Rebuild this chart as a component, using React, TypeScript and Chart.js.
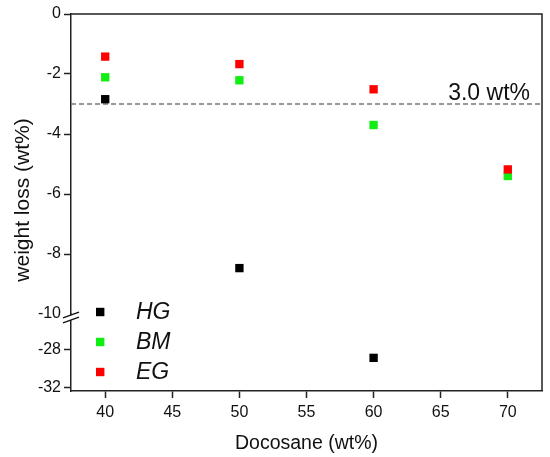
import React, { useRef, useEffect } from "react";
import { Chart, registerables } from "chart.js";

Chart.register(...registerables);

// x values and tick labels
const docosane = [40, 50, 60, 70];
const xTicks = [40, 45, 50, 55, 60, 65, 70];
const yTopTicks = [0, -2, -4, -6, -8, -10];
const yBottomTicks = [-28, -32];

// weight loss (wt%) per series, null = not on that axis segment
const seriesNames = ["HG", "BM", "EG"];
const hgUpper = [-2.84, -8.47, null, null];
const hgLower = [null, null, -28.9, null];
const bm = [-2.11, -2.21, -3.7, -5.4];
const eg = [-1.42, -1.67, -2.51, -5.18];
const threshold = -3.0;
const thresholdLabel = "3.0 wt%";

const colors: Record<string, string> = { HG: "#000000", BM: "#11ee11", EG: "#ff0000" };
const FONT = "'Liberation Sans', Arial, sans-serif";

const toPoints = (vals: (number | null)[]) =>
  docosane
    .map((x, i) => ({ x, y: vals[i] }))
    .filter((p) => p.y !== null) as { x: number; y: number }[];

const overlay = {
  id: "overlay",
  afterDraw(chart: any) {
    const { ctx, chartArea } = chart;
    const { left, right, top, bottom } = chartArea;
    ctx.save();

    // frame top + right
    ctx.strokeStyle = "#222";
    ctx.lineWidth = 1.5;
    ctx.beginPath();
    ctx.moveTo(left, top);
    ctx.lineTo(right, top);
    ctx.lineTo(right, bottom);
    ctx.stroke();

    // axis break
    const yb = chart.scales.y.bottom + 3;
    ctx.fillStyle = "#fff";
    ctx.beginPath();
    ctx.moveTo(left - 7, yb + 0.5);
    ctx.lineTo(left + 7, yb - 4.5);
    ctx.lineTo(left + 7, yb + 0.5);
    ctx.lineTo(left - 7, yb + 5.5);
    ctx.closePath();
    ctx.fill();
    ctx.strokeStyle = "#111";
    ctx.lineWidth = 1.3;
    ctx.beginPath();
    ctx.moveTo(left - 8, yb + 0.9);
    ctx.lineTo(left + 8, yb - 4.9);
    ctx.moveTo(left - 8, yb + 5.9);
    ctx.lineTo(left + 8, yb + 0.1);
    ctx.stroke();

    // threshold label
    ctx.fillStyle = "#111";
    ctx.font = `23px ${FONT}`;
    ctx.textAlign = "right";
    ctx.textBaseline = "alphabetic";
    ctx.fillText(thresholdLabel, right - 12, chart.scales.y.getPixelForValue(threshold) - 4.5);

    // legend
    ctx.font = `italic 23px ${FONT}`;
    ctx.textAlign = "left";
    ctx.textBaseline = "middle";
    seriesNames.forEach((name, i) => {
      const cy = 312 + i * 30;
      ctx.fillStyle = colors[name];
      ctx.fillRect(96, cy - 4.2, 8.4, 8.4);
      ctx.fillStyle = "#111";
      ctx.fillText(name, 136, cy + 1);
    });

    // axis titles
    ctx.textAlign = "center";
    ctx.font = `19.5px ${FONT}`;
    ctx.fillText("Docosane (wt%)", (left + right) / 2, 444);
    ctx.translate(23, 200);
    ctx.rotate(-Math.PI / 2);
    ctx.font = `21px ${FONT}`;
    ctx.fillText("weight loss (wt%)", 0, 0);

    ctx.restore();
  },
};

const App = () => {
  const canvasRef = useRef<HTMLCanvasElement>(null);

  useEffect(() => {
    document.body.style.margin = "0";
    const ctx = canvasRef.current?.getContext("2d");
    if (!ctx) return;

    const marker = (name: string) => ({
      pointStyle: "rect" as const,
      pointRadius: 5.9,
      pointHoverRadius: 5.9,
      pointBorderWidth: 0,
      backgroundColor: colors[name],
      borderColor: colors[name],
      showLine: false,
    });

    const axisGrid = (hide?: number) => ({
      display: true,
      drawOnChartArea: false,
      drawTicks: true,
      tickLength: 7,
      tickWidth: 1.5,
      tickColor: (c: any) => (c.tick && c.tick.value === hide ? "rgba(0,0,0,0)" : "#222"),
    });
    const axisBorder = { display: true, color: "#222", width: 1.5 };
    const tickFont = { family: FONT, size: 16 };

    const chart = new Chart(ctx, {
      type: "scatter",
      data: {
        datasets: [
          { label: "EG", data: toPoints(eg), yAxisID: "y", order: 0, ...marker("EG") },
          { label: "BM", data: toPoints(bm), yAxisID: "y", order: 1, ...marker("BM") },
          { label: "HG", data: toPoints(hgUpper), yAxisID: "y", order: 2, ...marker("HG") },
          { label: "HG", data: toPoints(hgLower), yAxisID: "y2", order: 2, ...marker("HG") },
          {
            type: "line",
            label: "limit",
            data: [
              { x: 37.45, y: threshold },
              { x: 72.55, y: threshold },
            ],
            yAxisID: "y",
            order: 3,
            borderColor: "#777",
            borderWidth: 1.5,
            borderDash: [5, 3],
            pointRadius: 0,
            showLine: true,
          } as any,
        ],
      },
      options: {
        animation: false,
        responsive: true,
        maintainAspectRatio: false,
        layout: { padding: { left: 0, right: 8, top: 14, bottom: 0 } },
        plugins: { legend: { display: false }, tooltip: { enabled: false } },
        scales: {
          x: {
            type: "linear",
            min: 37.45,
            max: 72.55,
            afterBuildTicks: (s: any) => {
              s.ticks = xTicks.map((value) => ({ value }));
            },
            afterFit: (s: any) => {
              s.height = 66;
            },
            grid: axisGrid(),
            border: axisBorder,
            ticks: { font: tickFont, color: "#111", padding: 5, maxRotation: 0 },
          },
          y2: {
            type: "linear",
            stack: "ys",
            stackWeight: 77,
            position: "left",
            min: -32.39,
            max: -24.28,
            afterBuildTicks: (s: any) => {
              s.ticks = yBottomTicks.map((value) => ({ value }));
            },
            afterFit: (s: any) => {
              s.width = 71;
            },
            grid: axisGrid(),
            border: axisBorder,
            ticks: { font: tickFont, color: "#111", padding: 3 },
          },
          y: {
            type: "linear",
            stack: "ys",
            stackWeight: 300,
            position: "left",
            min: -10,
            max: 0,
            afterBuildTicks: (s: any) => {
              s.ticks = yTopTicks.map((value) => ({ value }));
            },
            afterFit: (s: any) => {
              s.width = 71;
            },
            grid: axisGrid(-10),
            border: axisBorder,
            ticks: { font: tickFont, color: "#111", padding: 3 },
          },
        },
      },
      plugins: [overlay],
    });

    return () => {
      chart.destroy();
    };
  }, []);

  return (
    <div style={{ width: 550, height: 457, position: "relative" }}>
      <canvas ref={canvasRef}></canvas>
    </div>
  );
};

export default App;
